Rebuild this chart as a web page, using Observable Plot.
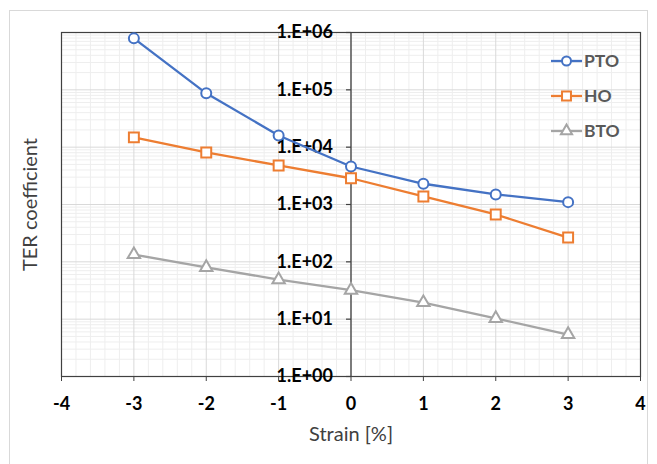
<!DOCTYPE html>
<html>
<head>
<meta charset="utf-8">
<script src="https://cdn.jsdelivr.net/npm/d3@7"></script>
<script src="https://cdn.jsdelivr.net/npm/@observablehq/plot@0.6"></script>
<style>
  html, body { margin: 0; padding: 0; background: #fff; }
  #wrap { position: relative; width: 657px; height: 464px; overflow: hidden; font-family: Lato, "Open Sans", sans-serif; }
  #box { position: absolute; left: 9px; top: 10px; width: 639px; height: 470px; border: 1px solid #d9d9d9; box-sizing: border-box; }
  #chart { position: absolute; left: 0; top: 0; }
  #legend { position: absolute; left: 0; top: 0; }
</style>
</head>
<body>
<div id="wrap"><div id="box"></div><div id="chart"></div><svg id="legend" width="657" height="464"></svg></div>
<script>
// ---- data ----
const strain = [-3, -2, -1, 0, 1, 2, 3];
const seriesNames = ["PTO", "HO", "BTO"];
const pto = [790000, 87000, 16000, 4600, 2300, 1500, 1100];
const ho  = [14800, 8100, 4800, 2870, 1380, 670, 265];
const bto = [134, 80, 49, 32, 19.5, 10.3, 5.4];
const seriesColors = ["#4472C4", "#ED7D31", "#A5A5A5"];
const seriesSymbols = ["circle", "square", "triangle"];
const xTicks = [-4, -3, -2, -1, 0, 1, 2, 3, 4];
const xTickLabels = ["-4", "-3", "-2", "-1", "0", "1", "2", "3", "4"];
const yTicks = [1, 10, 100, 1000, 10000, 100000, 1000000];
const yTickLabels = ["1.E+00", "1.E+01", "1.E+02", "1.E+03", "1.E+04", "1.E+05", "1.E+06"];
const xTitle = "Strain [%]";
const yTitle = "TER coefficient";

// ---- derived tables ----
const values = [pto, ho, bto];
const rows = [];
seriesNames.forEach((s, i) => strain.forEach((x, j) => rows.push({series: s, x, y: values[i][j]})));
const xMinor = d3.range(-40, 41, 2).map(d => d / 10).filter(d => !Number.isInteger(d));
const yMinor = [];
for (let e = 0; e < 6; e++) for (let m = 2; m <= 9; m++) yMinor.push(m * Math.pow(10, e));
const yTickRows = yTicks.map((v, i) => ({v, label: yTickLabels[i]}));
const symbolSize = [5, 5.6, 4.6];

const tickLeft = { draw(ctx) { ctx.moveTo(-5, 0); ctx.lineTo(0, 0); } };

const marks = [
  Plot.ruleX(xMinor, {stroke: "#eeeeee", strokeWidth: 1}),
  Plot.ruleY(yMinor, {stroke: "#eeeeee", strokeWidth: 1}),
  Plot.ruleX(xTicks, {stroke: "#d9d9d9", strokeWidth: 1}),
  Plot.ruleY(yTicks, {stroke: "#d9d9d9", strokeWidth: 1}),
  Plot.frame({stroke: "#404040", strokeWidth: 1.2}),
  Plot.ruleX([0], {stroke: "#404040", strokeWidth: 1.3}),
  Plot.dot(yTicks, {x: () => 0, y: d => d, symbol: tickLeft, stroke: "#404040", fill: "none", strokeWidth: 1.2}),
  Plot.text(yTickRows, {x: () => 0, y: "v", text: "label", dx: -18, textAnchor: "end", fontWeight: "bold", fontSize: 18, fill: "#000"}),
  Plot.axisX({ticks: xTicks, tickFormat: d => xTickLabels[xTicks.indexOf(d)], tickSize: 5, tickPadding: 16, fontWeight: "bold", fontSize: 18, label: null, stroke: "#404040", color: "#000"}),
];
seriesNames.forEach((s, i) => {
  const data = rows.filter(r => r.series === s);
  marks.push(Plot.line(data, {x: "x", y: "y", stroke: seriesColors[i], strokeWidth: 2.3}));
  marks.push(Plot.dot(data, {x: "x", y: "y", stroke: seriesColors[i], fill: "white", strokeWidth: 2, r: symbolSize[i], symbol: seriesSymbols[i]}));
});
marks.push(Plot.text([xTitle], {frameAnchor: "bottom", dy: 64, fontSize: 20, fill: "#404040"}));
marks.push(Plot.text([yTitle], {frameAnchor: "left", textAnchor: "middle", dx: -31, dy: 0, rotate: -90, fontSize: 20, fill: "#404040"}));

const chart = Plot.plot({
  width: 657,
  height: 464,
  marginLeft: 61,
  marginRight: 17,
  marginTop: 32,
  marginBottom: 88,
  style: {fontFamily: "Lato, 'Open Sans', sans-serif", background: "transparent", overflow: "visible"},
  x: {type: "linear", domain: [-4, 4], axis: null},
  y: {type: "log", domain: [1, 1e6], axis: null},
  marks
});
document.getElementById("chart").appendChild(chart);

// ---- legend ----
const lg = d3.select("#legend");
const sym = {circle: d3.symbolCircle, square: d3.symbolSquare, triangle: d3.symbolTriangle};
seriesNames.forEach((s, i) => {
  const g = lg.append("g").attr("transform", `translate(551,${61 + i * 35})`);
  g.append("line").attr("x1", 0).attr("x2", 31).attr("stroke", seriesColors[i]).attr("stroke-width", 2.3);
  g.append("path").attr("transform", "translate(15.5,0)")
    .attr("d", d3.symbol(sym[seriesSymbols[i]], (symbolSize[i] * 0.9) ** 2 * Math.PI)())
    .attr("fill", "white").attr("stroke", seriesColors[i]).attr("stroke-width", 2);
  g.append("text").attr("x", 33).attr("dy", "0.36em").text(s)
    .attr("font-size", 17.5).attr("font-weight", "bold").attr("fill", "#595959")
    .attr("font-family", "Lato, 'Open Sans', sans-serif");
});
</script>
</body>
</html>
